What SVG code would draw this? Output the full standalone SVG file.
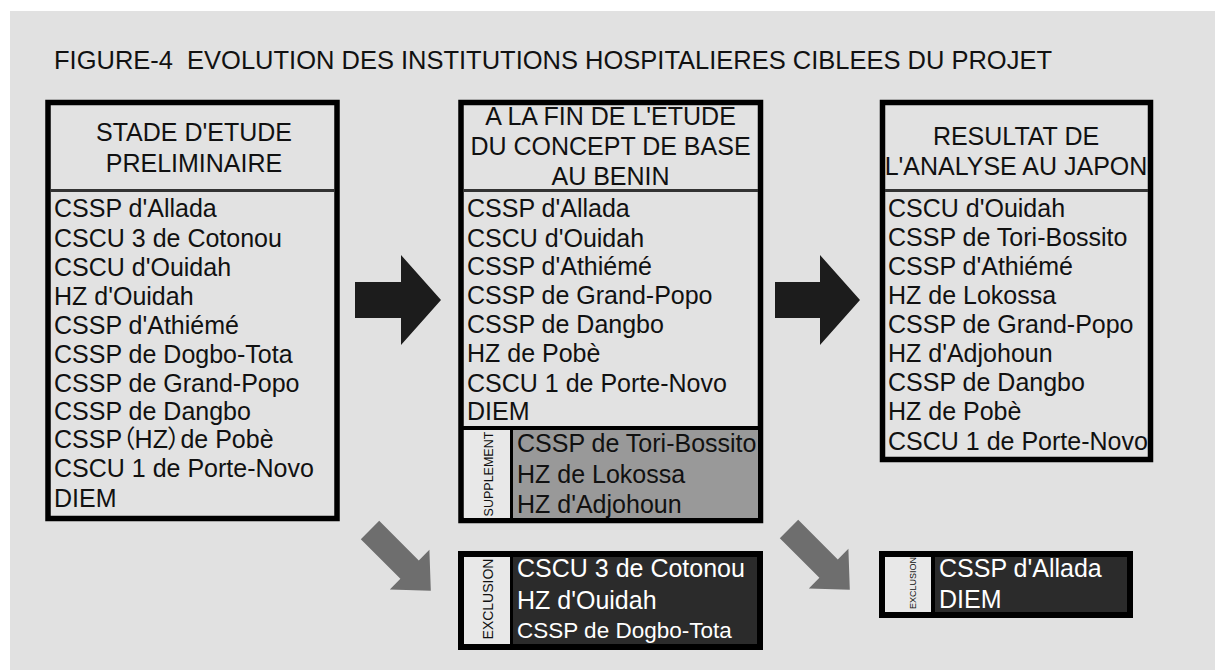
<svg xmlns="http://www.w3.org/2000/svg" width="1215" height="670" viewBox="0 0 1215 670">
<style>
text{font-family:"Liberation Sans",Arial,"Noto Sans CJK JP",sans-serif;fill:#111}
.t{font-size:25px}
.h{font-size:25px;text-anchor:middle}
.w{fill:#fff}
.box{fill:#e2e2e2;stroke:#000;stroke-width:5.5}
.div{stroke:#333;stroke-width:3}
.lbl{text-anchor:middle;dominant-baseline:central}
.big{fill:#1c1c1c}
.gray{fill:#6e6e6e}
.palt{font-feature-settings:"palt" 1}
</style>
<defs>
<polygon id="garrow" points="0,-13 56,-13 56,-28 86,0 56,28 56,13 0,13"/>
</defs>
<rect x="10" y="11" width="1205" height="659" fill="#e1e1e1"/>
<text id="title" x="54" y="69" xml:space="preserve" textLength="998" lengthAdjust="spacingAndGlyphs" style="font-size:25px;white-space:pre">FIGURE-4  EVOLUTION DES INSTITUTIONS HOSPITALIERES CIBLEES DU PROJET</text>

<g id="stage1">
<rect class="box" x="48" y="102.5" width="289" height="416"/>
<line class="div" x1="50" y1="190.5" x2="335" y2="190.5"/>
<text class="h" x="194" y="141">STADE D'ETUDE</text>
<text class="h" x="194" y="172">PRELIMINAIRE</text>
<text class="t" x="54" y="217">CSSP d'Allada</text>
<text class="t" x="54" y="247">CSCU 3 de Cotonou</text>
<text class="t" x="54" y="276">CSCU d'Ouidah</text>
<text class="t" x="54" y="305">HZ d'Ouidah</text>
<text class="t" x="54" y="334">CSSP d'Athiémé</text>
<text class="t" x="54" y="363">CSSP de Dogbo-Tota</text>
<text class="t" x="54" y="392">CSSP de Grand-Popo</text>
<text class="t" x="54" y="420">CSSP de Dangbo</text>
<text class="t palt" x="54" y="448">CSSP（HZ）de Pobè</text>
<text class="t" x="54" y="477">CSCU 1 de Porte-Novo</text>
<text class="t" x="54" y="507">DIEM</text>
</g>

<g id="stage2">
<rect class="box" x="461" y="102.5" width="299.5" height="418"/>
<line class="div" x1="463" y1="190.5" x2="758" y2="190.5"/>
<text class="h" x="610.5" y="125">A LA FIN DE L'ETUDE</text>
<text class="h" x="610.5" y="155">DU CONCEPT DE BASE</text>
<text class="h" x="610.5" y="185">AU BENIN</text>
<text class="t" x="467" y="217">CSSP d'Allada</text>
<text class="t" x="467" y="247">CSCU d'Ouidah</text>
<text class="t" x="467" y="275">CSSP d'Athiémé</text>
<text class="t" x="467" y="304">CSSP de Grand-Popo</text>
<text class="t" x="467" y="333">CSSP de Dangbo</text>
<text class="t" x="467" y="362">HZ de Pobè</text>
<text class="t" x="467" y="392">CSCU 1 de Porte-Novo</text>
<text class="t" x="467" y="420">DIEM</text>
</g>

<g id="supplement">
<rect x="464" y="430" width="47" height="88" fill="#e8e8e8"/>
<rect x="513" y="430" width="245" height="88" fill="#999"/>
<line x1="463" y1="428" x2="758" y2="428" stroke="#000" stroke-width="4"/>
<line x1="511.5" y1="430" x2="511.5" y2="518" stroke="#000" stroke-width="3"/>
<text class="lbl" transform="translate(489,474) rotate(-90)" style="font-size:12.5px">SUPPLEMENT</text>
<text class="t" x="517" y="452">CSSP de Tori-Bossito</text>
<text class="t" x="517" y="483">HZ de Lokossa</text>
<text class="t" x="517" y="513">HZ d'Adjohoun</text>
</g>

<g id="stage3">
<rect class="box" x="882.5" y="102.5" width="268" height="357"/>
<line class="div" x1="885" y1="190.5" x2="1148" y2="190.5"/>
<text class="h" x="1016" y="145">RESULTAT DE</text>
<text class="h" x="1016" y="175">L'ANALYSE AU JAPON</text>
<text class="t" x="888" y="217">CSCU d'Ouidah</text>
<text class="t" x="888" y="246">CSSP de Tori-Bossito</text>
<text class="t" x="888" y="275">CSSP d'Athiémé</text>
<text class="t" x="888" y="304">HZ de Lokossa</text>
<text class="t" x="888" y="333">CSSP de Grand-Popo</text>
<text class="t" x="888" y="362">HZ d'Adjohoun</text>
<text class="t" x="888" y="391">CSSP de Dangbo</text>
<text class="t" x="888" y="420">HZ de Pobè</text>
<text class="t" x="888" y="450">CSCU 1 de Porte-Novo</text>
</g>

<g id="exclusion1">
<rect x="458" y="551" width="305" height="99" fill="#000"/>
<rect x="464" y="557" width="46" height="87" fill="#e8e8e8"/>
<rect x="513" y="557" width="244" height="87" fill="#2b2b2b"/>
<text class="lbl" transform="translate(488,599) rotate(-90)" style="font-size:14px">EXCLUSION</text>
<text class="t w" x="517" y="577">CSCU 3 de Cotonou</text>
<text class="t w" x="517" y="609">HZ d'Ouidah</text>
<text class="w" x="517" y="638" style="font-size:22.5px">CSSP de Dogbo-Tota</text>
</g>

<g id="exclusion2">
<rect x="879" y="551" width="254" height="67" fill="#000"/>
<rect x="885" y="557" width="46" height="55" fill="#e8e8e8"/>
<rect x="935" y="557" width="192" height="55" fill="#2b2b2b"/>
<text class="lbl" transform="translate(913,583) rotate(-90)" style="font-size:9px">EXCLUSION</text>
<text class="t w" x="939" y="577">CSSP d'Allada</text>
<text class="t w" x="939" y="608">DIEM</text>
</g>

<g id="connectors">
<polygon class="big" points="355,282 401,282 401,255 441,300 401,345 401,318 355,318"/>
<polygon class="big" points="775,282 820,282 820,255 860,300 820,345 820,318 775,318"/>
<use href="#garrow" class="gray" transform="translate(370,530) rotate(45)"/>
<use href="#garrow" class="gray" transform="translate(789,529) rotate(45)"/>
</g>
</svg>
